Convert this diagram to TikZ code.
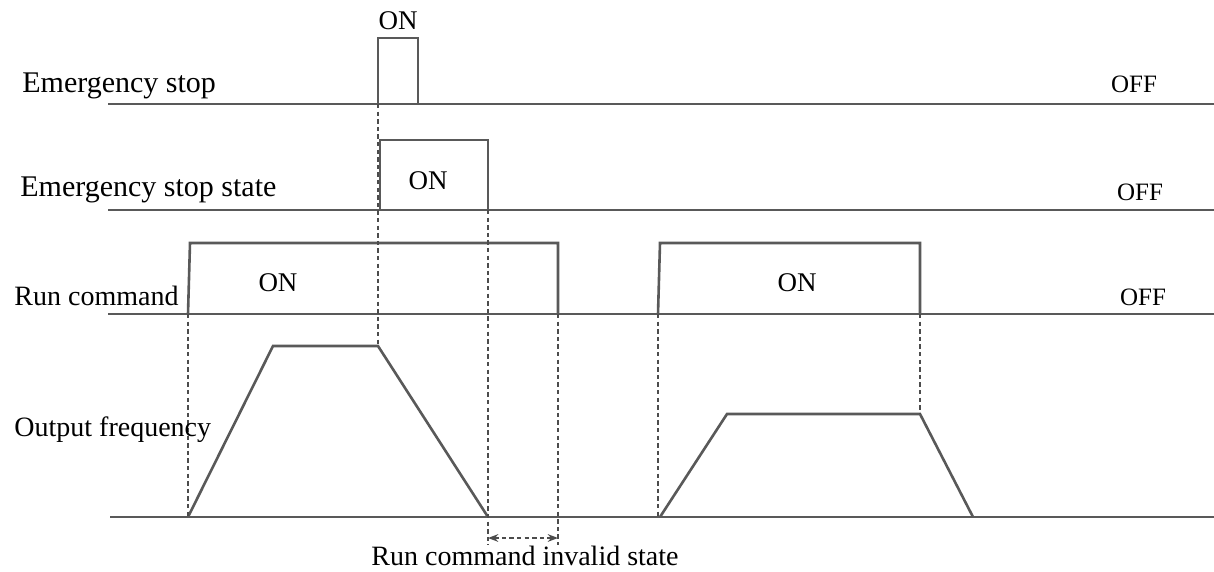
\documentclass[tikz,border=0pt]{standalone}
\usepackage{fontspec}
\setmainfont{Liberation Serif}
\usetikzlibrary{arrows.meta}
\tikzset{
  sig/.style={draw=black!65, line width=1.3pt},
  guide/.style={draw=black!70, line width=1pt, dash pattern=on 2.2pt off 1.6pt},
  lbl/.style={font=\fontsize{15}{18}\selectfont, inner sep=0pt, anchor=base west},
  onoff/.style={font=\fontsize{13.5}{16}\selectfont, inner sep=0pt, anchor=base},
}
\begin{document}
\begin{tikzpicture}[x=0.5pt,y=-0.5pt]
    \useasboundingbox (0,0) rectangle (1214,572);
    % base lines
    \draw[sig] (108,104) -- (1214,104);
    \draw[sig] (108,210) -- (1214,210);
    \draw[sig] (108,314) -- (1214,314);
    \draw[sig] (110,517) -- (1214,517);
    % signal traces
    \draw[sig] (378,104) -- (378,38) -- (418,38) -- (418,104);
    \draw[sig] (380,210) -- (380,140) -- (488,140) -- (488,210);
    \draw[sig] (188,314) -- (190,243) -- (558,243) -- (558,314);
    \draw[sig] (658,314) -- (660,243) -- (920,243) -- (920,314);
    \draw[sig] (188,517) -- (273,346) -- (378,346) -- (488,517);
    \draw[sig] (660,517) -- (727,414) -- (920,414) -- (973,517);
    % guide points
    \coordinate (esOn) at (378,104);
    \coordinate (fTop) at (378,346);
    \coordinate (essOff) at (488,210);
    \coordinate (essLow) at (488,545);
    \coordinate (rcOffA) at (558,314);
    \coordinate (rcLowA) at (558,545);
    \coordinate (rcOnA) at (188,314);
    \coordinate (fStartA) at (188,517);
    \coordinate (rcOnB) at (658,314);
    \coordinate (fStartB) at (658,517);
    \coordinate (rcOffB) at (920,314);
    \coordinate (fTopB) at (920,414);
    \coordinate (invL) at (488,538);
    \coordinate (invR) at (558,538);
    \draw[guide] (esOn) -- (fTop);
    \draw[guide] (essOff) -- (essLow);
    \draw[guide] (rcOffA) -- (rcLowA);
    \draw[guide] (rcOnA) -- (fStartA);
    \draw[guide] (rcOnB) -- (fStartB);
    \draw[guide] (rcOffB) -- (fTopB);
    \draw[guide, {Stealth[length=1.8mm]}-{Stealth[length=1.8mm]}] (invL) -- (invR);
    % labels
    \node[lbl] (esLbl) at (22,93) {Emergency stop};
    \node[lbl] (essLbl) at (20,197) {Emergency stop state};
    \node[lbl, font=\fontsize{14}{17}\selectfont] (rcLbl) at (14,305) {Run command};
    \node[lbl, font=\fontsize{14}{17}\selectfont] (ofLbl) at (14,436) {Output frequency};
    \node[onoff] (esOnLbl) at (398,30) {ON};
    \node[onoff] (essOnLbl) at (428,190) {ON};
    \node[onoff] (rcOnLblA) at (278,292) {ON};
    \node[onoff] (rcOnLblB) at (797,292) {ON};
    \node[onoff, font=\fontsize{12.5}{15}\selectfont] (esOffLbl) at (1134,93) {OFF};
    \node[onoff, font=\fontsize{12.5}{15}\selectfont] (essOffLbl) at (1140,201) {OFF};
    \node[onoff, font=\fontsize{12.5}{15}\selectfont] (rcOffLbl) at (1143,305) {OFF};
    \node[onoff, font=\fontsize{14}{17}\selectfont] (invLbl) at (525,565) {Run command invalid state};
\end{tikzpicture}
\end{document}
